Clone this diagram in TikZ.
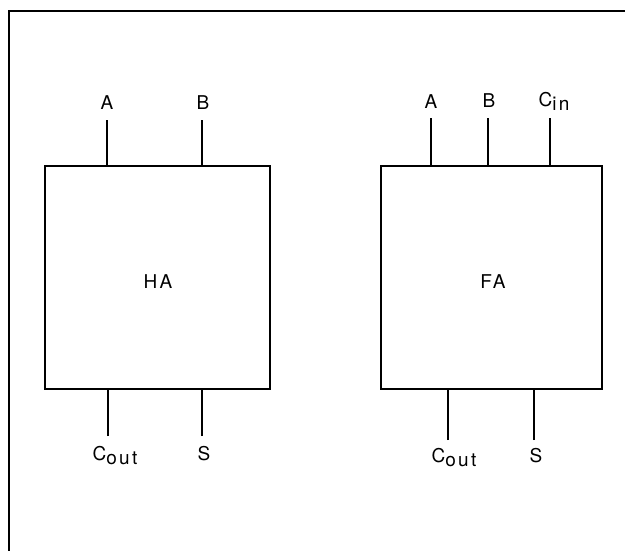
\documentclass[tikz,border=0pt]{standalone}
\usepackage{fontspec}
\setmainfont{TeX Gyre Heros}[LetterSpace=12]
\newcommand{\subtx}[1]{\raisebox{-0.45ex}{#1}}
\begin{document}
\begin{tikzpicture}[x=1pt,y=-1pt,
  blk/.style={draw,line width=1.5pt,inner sep=0pt},
  pin/.style={line width=1.5pt},
  lbl/.style={font=\fontsize{19}{21}\selectfont,inner sep=0pt},
  frm/.style={line width=1.8pt}]
\useasboundingbox (0,0) rectangle (625,550);
% frame
\coordinate (f1) at (9,551);
\coordinate (f2) at (9,11);
\coordinate (f3) at (626,11);
\draw[frm] (f1) -- (f2) -- (f3);
% boxes
\node[blk,minimum width=225pt,minimum height=223pt] (ha) at (157.5,277.5) {};
\node[lbl] (hat) at (158,282) {HA};
\node[blk,minimum width=221pt,minimum height=223pt] (fa) at (491.5,277.5) {};
\node[lbl] (fat) at (493,282) {FA};
% HA pins
\coordinate (haA) at (107,120);
\coordinate (haB) at (202,120);
\coordinate (haC) at (108,436);
\coordinate (haS) at (202,436);
\draw[pin] (haA) -- (haA |- ha.north);
\draw[pin] (haB) -- (haB |- ha.north);
\draw[pin] (haC) -- (haC |- ha.south);
\draw[pin] (haS) -- (haS |- ha.south);
\node[lbl] (lhaA) at (107,103) {A};
\node[lbl] (lhaB) at (203,103) {B};
\node[lbl,anchor=base] (lhaC) at (115,460) {C\subtx{out}};
\node[lbl] (lhaS) at (204,454) {S};
% FA pins
\coordinate (faA) at (431,118);
\coordinate (faB) at (488,118);
\coordinate (faCi) at (550,118);
\coordinate (faC) at (448,440);
\coordinate (faS) at (534,440);
\draw[pin] (faA) -- (faA |- fa.north);
\draw[pin] (faB) -- (faB |- fa.north);
\draw[pin] (faCi) -- (faCi |- fa.north);
\draw[pin] (faC) -- (faC |- fa.south);
\draw[pin] (faS) -- (faS |- fa.south);
\node[lbl] (lfaA) at (431,102) {A};
\node[lbl] (lfaB) at (489,101) {B};
\node[lbl,anchor=base] (lfaCi) at (554,106) {C\subtx{in}};
\node[lbl,anchor=base] (lfaC) at (454,462) {C\subtx{out}};
\node[lbl] (lfaS) at (536,456) {S};
\end{tikzpicture}
\end{document}
